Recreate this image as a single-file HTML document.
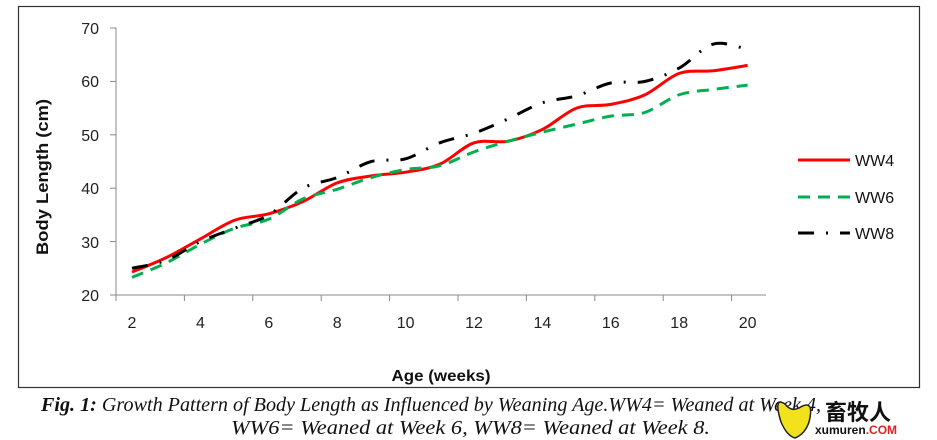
<!DOCTYPE html>
<html><head><meta charset="utf-8"><style>
body{margin:0;background:#fff;width:937px;height:440px;overflow:hidden}
svg{display:block}
</style></head><body>
<svg id="s" width="937" height="440" xmlns="http://www.w3.org/2000/svg" font-family="'Liberation Sans',sans-serif">
<rect x="18.5" y="6.5" width="901" height="381" fill="#fff" stroke="#333" stroke-width="1.2"/>
<g stroke="#888" stroke-width="1">
<line x1="116" y1="28" x2="116" y2="295"/>
<line x1="116" y1="295" x2="766" y2="295"/>
<line x1="110" y1="28" x2="116" y2="28"/><line x1="110" y1="81.4" x2="116" y2="81.4"/>
<line x1="110" y1="134.8" x2="116" y2="134.8"/><line x1="110" y1="188.2" x2="116" y2="188.2"/>
<line x1="110" y1="241.6" x2="116" y2="241.6"/><line x1="110" y1="295" x2="116" y2="295"/>
</g>
<g id="xt" stroke="#888"></g>
<g font-size="16" fill="#222" text-anchor="end">
<text x="99" y="34">70</text><text x="99" y="87">60</text><text x="99" y="141">50</text>
<text x="99" y="194">40</text><text x="99" y="248">30</text><text x="99" y="301">20</text>
</g>
<g id="xl" font-size="16" fill="#222" text-anchor="middle"></g>
<text transform="translate(48,177) rotate(-90)" font-size="17" font-weight="bold" text-anchor="middle" fill="#111" textLength="156" lengthAdjust="spacingAndGlyphs">Body Length (cm)</text>
<text x="441" y="381" font-size="16" font-weight="bold" text-anchor="middle" fill="#111" textLength="99" lengthAdjust="spacingAndGlyphs">Age (weeks)</text>
<g id="lines" fill="none" stroke-width="3"></g>
<line x1="798" y1="160" x2="850" y2="160" stroke="#f00" stroke-width="3"/>
<line x1="798" y1="197" x2="850" y2="197" stroke="#00b050" stroke-width="3" stroke-dasharray="12 8"/>
<line x1="798" y1="233" x2="850" y2="233" stroke="#000" stroke-width="3" stroke-dasharray="16 12 2 12"/>
<g font-size="16" fill="#111"><text x="855" y="166">WW4</text><text x="855" y="203">WW6</text><text x="855" y="239">WW8</text></g>
<g font-family="'Liberation Serif',serif" font-style="italic" font-size="20" fill="#111">
<text x="41" y="411" textLength="780" lengthAdjust="spacingAndGlyphs"><tspan font-weight="bold">Fig. 1:</tspan> Growth Pattern of Body Length as Influenced by Weaning Age.WW4= Weaned at Week 4,</text>
<text x="231" y="434" textLength="479" lengthAdjust="spacingAndGlyphs">WW6= Weaned at Week 6, WW8= Weaned at Week 8.</text>
</g>
<path d="M785 404 q-12 -8 -4 18 q6 14 14 16 q10 -4 14 -16 q6 -24 -10 -14 q-8 4 -14 -4z" fill="#f2e21c" stroke="#222" stroke-width="1.5"/>
<text x="825" y="420" font-size="22" font-weight="bold" fill="#111" font-family="'Liberation Sans','Noto Sans CJK SC',sans-serif">畜牧人</text>
<text x="815" y="434" font-size="12" font-weight="bold" fill="#111">xumuren<tspan fill="#d22">.COM</tspan></text>
</svg>
<script>
var ns="http://www.w3.org/2000/svg";
function X(w){return 132+(w-2)*34.2}
function Y(v){return 295-(v-20)*5.34}
var xt=document.getElementById('xt'),xl=document.getElementById('xl');
for(var i=0;i<=19;i+=2){var l=document.createElementNS(ns,'line');var x=116+i*34.2;
l.setAttribute('x1',x);l.setAttribute('x2',x);l.setAttribute('y1',295);l.setAttribute('y2',301);xt.appendChild(l);}
for(var w=2;w<=20;w+=2){var t=document.createElementNS(ns,'text');t.setAttribute('x',X(w));t.setAttribute('y',328);t.textContent=w;xl.appendChild(t);}
var D=[
["#f00","",[24.3,27,30.5,34,35.2,37.5,41,42.3,43,44.5,48.5,48.8,51,55,55.7,57.5,61.5,62,63]],
["#00b050","12 8",[23.3,26,29.5,32.5,34.2,38,39.8,42,43.5,44.2,46.8,48.8,50.5,52,53.5,54.2,57.5,58.5,59.3]],
["#000","16 12 2 12",[25,26.5,30,32.5,35,40,42,45,45.5,48.5,50.3,53,56,57.3,59.7,60,62.5,67,66]]];
var g=document.getElementById('lines');
D.forEach(function(s){var p=s[2].map(function(v,i){return [X(i+2),Y(v)]});
var d="M"+p[0][0]+" "+p[0][1];
for(var i=0;i<p.length-1;i++){var p0=p[i-1]||p[i],p1=p[i],p2=p[i+1],p3=p[i+2]||p2;
d+=" C"+(p1[0]+(p2[0]-p0[0])/6)+" "+(p1[1]+(p2[1]-p0[1])/6)+" "+(p2[0]-(p3[0]-p1[0])/6)+" "+(p2[1]-(p3[1]-p1[1])/6)+" "+p2[0]+" "+p2[1];}
var e=document.createElementNS(ns,'path');e.setAttribute('d',d);e.setAttribute('stroke',s[0]);
if(s[1])e.setAttribute('stroke-dasharray',s[1]);g.appendChild(e);});
</script>
</body></html>
